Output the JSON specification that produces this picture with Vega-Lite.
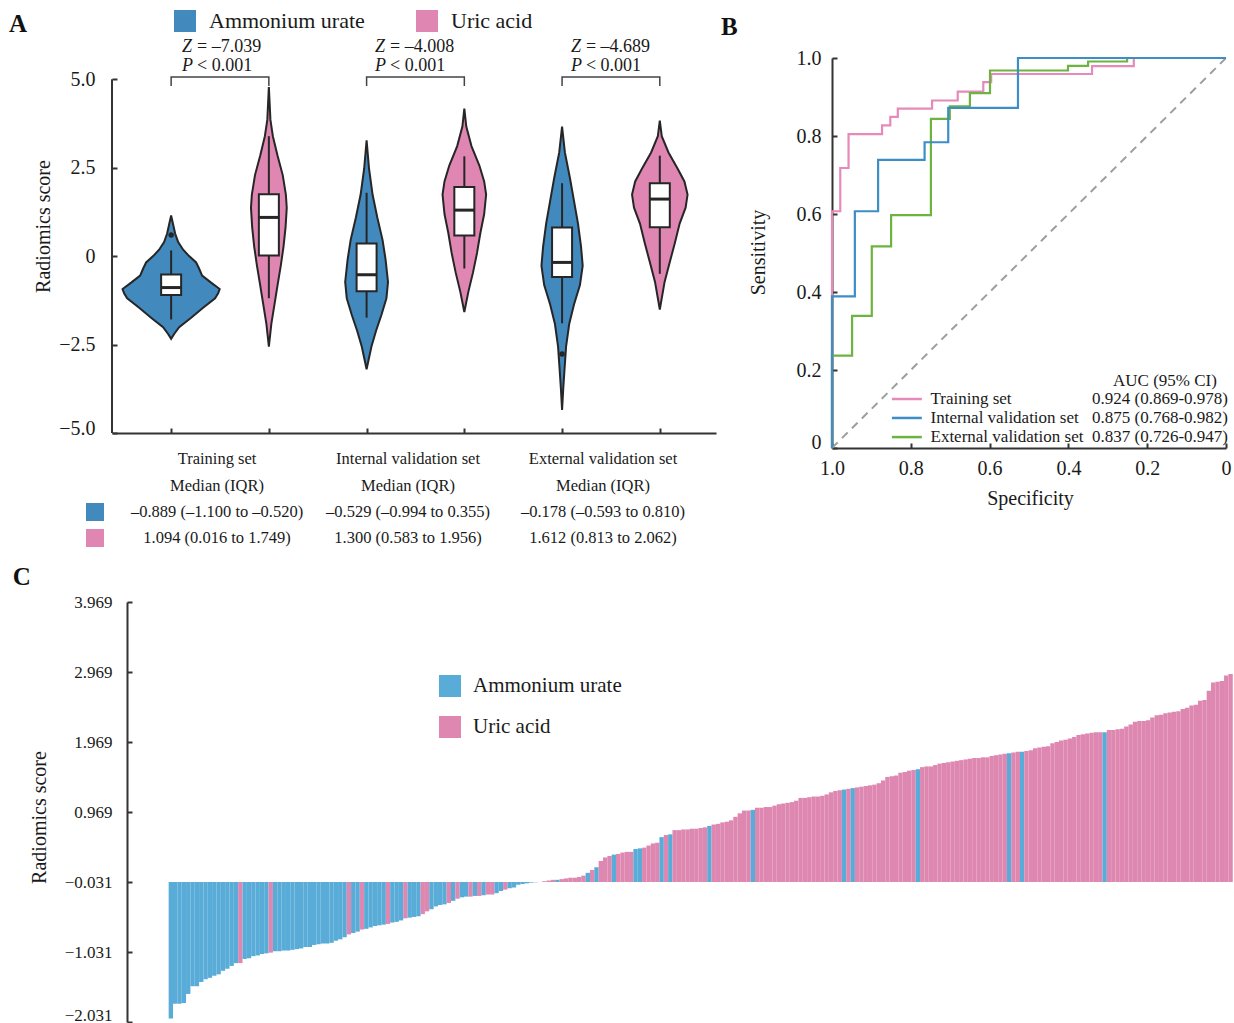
{
"$schema":"https://vega.github.io/schema/vega-lite/v6.json",
"background":"white",
"padding":{"left":8,"top":10,"right":0,"bottom":0},
"config":{
 "view":{"stroke":null},
 "font":"Liberation Serif",
 "axis":{"grid":false,"domainColor":"#333333","domainWidth":2,"tickColor":"#333333","tickWidth":2,"tickSize":-5,"labelColor":"#1a1a1a","labelFont":"Liberation Serif","labelFontSize":20,"titleFont":"Liberation Serif","titleFontSize":20,"titleFontWeight":"normal","titleColor":"#1a1a1a"},
 "legend":{"labelFont":"Liberation Serif","labelColor":"#1a1a1a"},
 "text":{"font":"Liberation Serif","color":"#1a1a1a"}
},
"datasets":{
 "vio":[
  {"g":"Ammonium urate","pos":1,"v":1.15,"d":0},{"g":"Ammonium urate","pos":1,"v":0.9,"d":0.02},{"g":"Ammonium urate","pos":1,"v":0.64,"d":0.041},{"g":"Ammonium urate","pos":1,"v":0.4,"d":0.072},{"g":"Ammonium urate","pos":1,"v":0.18,"d":0.123},{"g":"Ammonium urate","pos":1,"v":0.0,"d":0.184},{"g":"Ammonium urate","pos":1,"v":-0.18,"d":0.256},{"g":"Ammonium urate","pos":1,"v":-0.35,"d":0.286},{"g":"Ammonium urate","pos":1,"v":-0.55,"d":0.317},{"g":"Ammonium urate","pos":1,"v":-0.75,"d":0.409},{"g":"Ammonium urate","pos":1,"v":-0.93,"d":0.497},{"g":"Ammonium urate","pos":1,"v":-1.05,"d":0.481},{"g":"Ammonium urate","pos":1,"v":-1.19,"d":0.45},{"g":"Ammonium urate","pos":1,"v":-1.46,"d":0.327},{"g":"Ammonium urate","pos":1,"v":-1.74,"d":0.205},{"g":"Ammonium urate","pos":1,"v":-2.01,"d":0.082},{"g":"Ammonium urate","pos":1,"v":-2.2,"d":0.031},{"g":"Ammonium urate","pos":1,"v":-2.34,"d":0},
  {"g":"Uric acid","pos":2,"v":4.78,"d":0},{"g":"Uric acid","pos":2,"v":3.85,"d":0.016},{"g":"Uric acid","pos":2,"v":3.39,"d":0.041},{"g":"Uric acid","pos":2,"v":2.84,"d":0.089},{"g":"Uric acid","pos":2,"v":2.29,"d":0.142},{"g":"Uric acid","pos":2,"v":1.74,"d":0.174},{"g":"Uric acid","pos":2,"v":1.37,"d":0.183},{"g":"Uric acid","pos":2,"v":0.82,"d":0.171},{"g":"Uric acid","pos":2,"v":0.27,"d":0.15},{"g":"Uric acid","pos":2,"v":-0.27,"d":0.122},{"g":"Uric acid","pos":2,"v":-0.82,"d":0.089},{"g":"Uric acid","pos":2,"v":-1.37,"d":0.057},{"g":"Uric acid","pos":2,"v":-1.92,"d":0.025},{"g":"Uric acid","pos":2,"v":-2.56,"d":0},
  {"g":"Ammonium urate","pos":3,"v":3.27,"d":0},{"g":"Ammonium urate","pos":3,"v":2.47,"d":0.025},{"g":"Ammonium urate","pos":3,"v":1.74,"d":0.061},{"g":"Ammonium urate","pos":3,"v":1.1,"d":0.109},{"g":"Ammonium urate","pos":3,"v":0.46,"d":0.163},{"g":"Ammonium urate","pos":3,"v":-0.09,"d":0.194},{"g":"Ammonium urate","pos":3,"v":-0.73,"d":0.219},{"g":"Ammonium urate","pos":3,"v":-1.19,"d":0.203},{"g":"Ammonium urate","pos":3,"v":-1.65,"d":0.153},{"g":"Ammonium urate","pos":3,"v":-2.11,"d":0.097},{"g":"Ammonium urate","pos":3,"v":-2.56,"d":0.049},{"g":"Ammonium urate","pos":3,"v":-3.2,"d":0},
  {"g":"Uric acid","pos":4,"v":4.17,"d":0},{"g":"Uric acid","pos":4,"v":3.66,"d":0.02},{"g":"Uric acid","pos":4,"v":3.11,"d":0.073},{"g":"Uric acid","pos":4,"v":2.56,"d":0.154},{"g":"Uric acid","pos":4,"v":2.11,"d":0.203},{"g":"Uric acid","pos":4,"v":1.74,"d":0.223},{"g":"Uric acid","pos":4,"v":1.19,"d":0.203},{"g":"Uric acid","pos":4,"v":0.64,"d":0.163},{"g":"Uric acid","pos":4,"v":0.09,"d":0.13},{"g":"Uric acid","pos":4,"v":-0.46,"d":0.089},{"g":"Uric acid","pos":4,"v":-1.01,"d":0.041},{"g":"Uric acid","pos":4,"v":-1.58,"d":0},
  {"g":"Ammonium urate","pos":5,"v":3.66,"d":0},{"g":"Ammonium urate","pos":5,"v":2.93,"d":0.029},{"g":"Ammonium urate","pos":5,"v":2.2,"d":0.081},{"g":"Ammonium urate","pos":5,"v":1.56,"d":0.122},{"g":"Ammonium urate","pos":5,"v":0.92,"d":0.163},{"g":"Ammonium urate","pos":5,"v":0.27,"d":0.194},{"g":"Ammonium urate","pos":5,"v":-0.27,"d":0.211},{"g":"Ammonium urate","pos":5,"v":-0.82,"d":0.183},{"g":"Ammonium urate","pos":5,"v":-1.37,"d":0.122},{"g":"Ammonium urate","pos":5,"v":-1.92,"d":0.073},{"g":"Ammonium urate","pos":5,"v":-2.56,"d":0.041},{"g":"Ammonium urate","pos":5,"v":-3.2,"d":0.025},{"g":"Ammonium urate","pos":5,"v":-3.75,"d":0.012},{"g":"Ammonium urate","pos":5,"v":-4.35,"d":0},
  {"g":"Uric acid","pos":6,"v":3.83,"d":0},{"g":"Uric acid","pos":6,"v":3.39,"d":0.02},{"g":"Uric acid","pos":6,"v":2.93,"d":0.089},{"g":"Uric acid","pos":6,"v":2.47,"d":0.183},{"g":"Uric acid","pos":6,"v":2.11,"d":0.252},{"g":"Uric acid","pos":6,"v":1.74,"d":0.284},{"g":"Uric acid","pos":6,"v":1.37,"d":0.264},{"g":"Uric acid","pos":6,"v":0.92,"d":0.203},{"g":"Uric acid","pos":6,"v":0.37,"d":0.154},{"g":"Uric acid","pos":6,"v":-0.18,"d":0.101},{"g":"Uric acid","pos":6,"v":-0.73,"d":0.049},{"g":"Uric acid","pos":6,"v":-1.51,"d":0}
 ],
 "box":[
  {"pos":1,"q1":-1.1,"med":-0.889,"q3":-0.52,"lw":-1.79,"uw":0.16},
  {"pos":2,"q1":0.016,"med":1.094,"q3":1.749,"lw":-1.19,"uw":3.39},
  {"pos":3,"q1":-0.994,"med":-0.529,"q3":0.355,"lw":-1.74,"uw":1.79},
  {"pos":4,"q1":0.583,"med":1.3,"q3":1.956,"lw":-0.35,"uw":2.82},
  {"pos":5,"q1":-0.593,"med":-0.178,"q3":0.81,"lw":-1.9,"uw":2.06},
  {"pos":6,"q1":0.813,"med":1.612,"q3":2.062,"lw":-0.5,"uw":2.84}
 ],
 "out":[{"pos":1,"v":0.6},{"pos":5,"v":-2.77}],
 "axisline":[{"a":-5,"b":5}],
 "brk":[
  {"b":1,"k":1,"x":1,"y":4.81},{"b":1,"k":2,"x":1,"y":5.06},{"b":1,"k":3,"x":2,"y":5.06},{"b":1,"k":4,"x":2,"y":4.81},
  {"b":2,"k":1,"x":3,"y":4.81},{"b":2,"k":2,"x":3,"y":5.06},{"b":2,"k":3,"x":4,"y":5.06},{"b":2,"k":4,"x":4,"y":4.81},
  {"b":3,"k":1,"x":5,"y":4.81},{"b":3,"k":2,"x":5,"y":5.06},{"b":3,"k":3,"x":6,"y":5.06},{"b":3,"k":4,"x":6,"y":4.81}
 ],
 "stat":[
  {"x":1.112,"y":5.91,"s":"Z","r":"= –7.039"},{"x":3.086,"y":5.91,"s":"Z","r":"= –4.008"},{"x":5.091,"y":5.91,"s":"Z","r":"= –4.689"},
  {"x":1.112,"y":5.37,"s":"P","r":"< 0.001"},{"x":3.086,"y":5.37,"s":"P","r":"< 0.001"},{"x":5.091,"y":5.37,"s":"P","r":"< 0.001"}
 ],
 "tbl":[
  {"x":1.47,"y":-5.735,"t":"Training set"},{"x":3.424,"y":-5.735,"t":"Internal validation set"},{"x":5.419,"y":-5.735,"t":"External validation set"},
  {"x":1.47,"y":-6.498,"t":"Median (IQR)"},{"x":3.424,"y":-6.498,"t":"Median (IQR)"},{"x":5.419,"y":-6.498,"t":"Median (IQR)"},
  {"x":1.47,"y":-7.233,"t":"–0.889 (–1.100 to –0.520)"},{"x":3.424,"y":-7.233,"t":"–0.529 (–0.994 to 0.355)"},{"x":5.419,"y":-7.233,"t":"–0.178 (–0.593 to 0.810)"},
  {"x":1.47,"y":-7.968,"t":"1.094 (0.016 to 1.749)"},{"x":3.424,"y":-7.968,"t":"1.300 (0.583 to 1.956)"},{"x":5.419,"y":-7.968,"t":"1.612 (0.813 to 2.062)"}
 ],
 "sq":[{"x":0.221,"y":-7.233,"g":"Ammonium urate"},{"x":0.221,"y":-7.968,"g":"Uric acid"}],
 "labA":[{"x":-0.659,"y":6.335,"t":"A"}],
 "labB":[{"x":1.282,"y":1.059,"t":"B"}],
 "labC":[{"x":-35.4,"y":4.212,"t":"C"}],
 "diag":[{"sp":1,"se":0},{"sp":0,"se":1}],
 "roc":[
  {"set":"Training set","k":0,"sp":1,"se":0},{"set":"Training set","k":1,"sp":1,"se":0.607},{"set":"Training set","k":2,"sp":0.979,"se":0.607},{"set":"Training set","k":3,"sp":0.979,"se":0.718},{"set":"Training set","k":4,"sp":0.958,"se":0.718},{"set":"Training set","k":5,"sp":0.958,"se":0.805},{"set":"Training set","k":6,"sp":0.873,"se":0.805},{"set":"Training set","k":7,"sp":0.873,"se":0.827},{"set":"Training set","k":8,"sp":0.852,"se":0.827},{"set":"Training set","k":9,"sp":0.852,"se":0.849},{"set":"Training set","k":10,"sp":0.833,"se":0.849},{"set":"Training set","k":11,"sp":0.833,"se":0.87},{"set":"Training set","k":12,"sp":0.746,"se":0.87},{"set":"Training set","k":13,"sp":0.746,"se":0.891},{"set":"Training set","k":14,"sp":0.681,"se":0.891},{"set":"Training set","k":15,"sp":0.681,"se":0.914},{"set":"Training set","k":16,"sp":0.616,"se":0.914},{"set":"Training set","k":17,"sp":0.616,"se":0.938},{"set":"Training set","k":18,"sp":0.596,"se":0.938},{"set":"Training set","k":19,"sp":0.596,"se":0.959},{"set":"Training set","k":20,"sp":0.34,"se":0.959},{"set":"Training set","k":21,"sp":0.34,"se":0.979},{"set":"Training set","k":22,"sp":0.234,"se":0.979},{"set":"Training set","k":23,"sp":0.234,"se":1},{"set":"Training set","k":24,"sp":0,"se":1},
  {"set":"Internal validation set","k":0,"sp":1,"se":0},{"set":"Internal validation set","k":1,"sp":1,"se":0.389},{"set":"Internal validation set","k":2,"sp":0.942,"se":0.389},{"set":"Internal validation set","k":3,"sp":0.942,"se":0.607},{"set":"Internal validation set","k":4,"sp":0.883,"se":0.607},{"set":"Internal validation set","k":5,"sp":0.883,"se":0.739},{"set":"Internal validation set","k":6,"sp":0.765,"se":0.739},{"set":"Internal validation set","k":7,"sp":0.765,"se":0.784},{"set":"Internal validation set","k":8,"sp":0.705,"se":0.784},{"set":"Internal validation set","k":9,"sp":0.705,"se":0.872},{"set":"Internal validation set","k":10,"sp":0.528,"se":0.872},{"set":"Internal validation set","k":11,"sp":0.528,"se":1},{"set":"Internal validation set","k":12,"sp":0,"se":1},
  {"set":"External validation set","k":0,"sp":1,"se":0},{"set":"External validation set","k":1,"sp":1,"se":0.237},{"set":"External validation set","k":2,"sp":0.949,"se":0.237},{"set":"External validation set","k":3,"sp":0.949,"se":0.339},{"set":"External validation set","k":4,"sp":0.899,"se":0.339},{"set":"External validation set","k":5,"sp":0.899,"se":0.517},{"set":"External validation set","k":6,"sp":0.85,"se":0.517},{"set":"External validation set","k":7,"sp":0.85,"se":0.597},{"set":"External validation set","k":8,"sp":0.749,"se":0.597},{"set":"External validation set","k":9,"sp":0.749,"se":0.844},{"set":"External validation set","k":10,"sp":0.701,"se":0.844},{"set":"External validation set","k":11,"sp":0.701,"se":0.876},{"set":"External validation set","k":12,"sp":0.65,"se":0.876},{"set":"External validation set","k":13,"sp":0.65,"se":0.91},{"set":"External validation set","k":14,"sp":0.599,"se":0.91},{"set":"External validation set","k":15,"sp":0.599,"se":0.968},{"set":"External validation set","k":16,"sp":0.401,"se":0.968},{"set":"External validation set","k":17,"sp":0.401,"se":0.98},{"set":"External validation set","k":18,"sp":0.35,"se":0.98},{"set":"External validation set","k":19,"sp":0.35,"se":0.991},{"set":"External validation set","k":20,"sp":0.251,"se":0.991},{"set":"External validation set","k":21,"sp":0.251,"se":1},{"set":"External validation set","k":22,"sp":0,"se":1}
 ],
 "rocleg":[
  {"set":"Training set","x1":0.848,"x2":0.772,"y":0.1256},
  {"set":"Internal validation set","x1":0.848,"x2":0.772,"y":0.077},
  {"set":"External validation set","x1":0.848,"x2":0.772,"y":0.028}
 ],
 "rocname":[
  {"x":0.75,"y":0.1256,"t":"Training set"},{"x":0.75,"y":0.077,"t":"Internal validation set"},{"x":0.75,"y":0.028,"t":"External validation set"}
 ],
 "rocauc":[
  {"x":-0.005,"y":0.1256,"t":"0.924 (0.869-0.978)"},{"x":-0.005,"y":0.077,"t":"0.875 (0.768-0.982)"},{"x":-0.005,"y":0.028,"t":"0.837 (0.726-0.947)"}
 ],
 "rochead":[{"x":0.155,"y":0.172,"t":"AUC (95% CI)"}],
 "bars":[
  {"r":1,"v":-1.98,"t":"Ammonium urate"},{"r":2,"v":-1.77,"t":"Ammonium urate"},{"r":3,"v":-1.77,"t":"Ammonium urate"},{"r":4,"v":-1.76,"t":"Ammonium urate"},{"r":5,"v":-1.63,"t":"Ammonium urate"},{"r":6,"v":-1.52,"t":"Ammonium urate"},{"r":7,"v":-1.52,"t":"Ammonium urate"},{"r":8,"v":-1.46,"t":"Ammonium urate"},{"r":9,"v":-1.42,"t":"Ammonium urate"},{"r":10,"v":-1.4,"t":"Ammonium urate"},
  {"r":11,"v":-1.37,"t":"Ammonium urate"},{"r":12,"v":-1.35,"t":"Ammonium urate"},{"r":13,"v":-1.3,"t":"Ammonium urate"},{"r":14,"v":-1.27,"t":"Ammonium urate"},{"r":15,"v":-1.23,"t":"Ammonium urate"},{"r":16,"v":-1.19,"t":"Ammonium urate"},{"r":17,"v":-1.19,"t":"Uric acid"},{"r":18,"v":-1.13,"t":"Ammonium urate"},{"r":19,"v":-1.12,"t":"Ammonium urate"},{"r":20,"v":-1.09,"t":"Ammonium urate"},
  {"r":21,"v":-1.08,"t":"Ammonium urate"},{"r":22,"v":-1.06,"t":"Ammonium urate"},{"r":23,"v":-1.05,"t":"Ammonium urate"},{"r":24,"v":-1.04,"t":"Uric acid"},{"r":25,"v":-1.02,"t":"Ammonium urate"},{"r":26,"v":-1.02,"t":"Ammonium urate"},{"r":27,"v":-1.01,"t":"Ammonium urate"},{"r":28,"v":-1.01,"t":"Ammonium urate"},{"r":29,"v":-1.0,"t":"Ammonium urate"},{"r":30,"v":-0.99,"t":"Ammonium urate"},
  {"r":31,"v":-0.98,"t":"Ammonium urate"},{"r":32,"v":-0.96,"t":"Ammonium urate"},{"r":33,"v":-0.96,"t":"Ammonium urate"},{"r":34,"v":-0.93,"t":"Ammonium urate"},{"r":35,"v":-0.92,"t":"Ammonium urate"},{"r":36,"v":-0.91,"t":"Ammonium urate"},{"r":37,"v":-0.91,"t":"Ammonium urate"},{"r":38,"v":-0.9,"t":"Ammonium urate"},{"r":39,"v":-0.87,"t":"Ammonium urate"},{"r":40,"v":-0.85,"t":"Ammonium urate"},
  {"r":41,"v":-0.82,"t":"Ammonium urate"},{"r":42,"v":-0.78,"t":"Uric acid"},{"r":43,"v":-0.76,"t":"Ammonium urate"},{"r":44,"v":-0.74,"t":"Ammonium urate"},{"r":45,"v":-0.71,"t":"Uric acid"},{"r":46,"v":-0.7,"t":"Ammonium urate"},{"r":47,"v":-0.68,"t":"Ammonium urate"},{"r":48,"v":-0.66,"t":"Ammonium urate"},{"r":49,"v":-0.65,"t":"Ammonium urate"},{"r":50,"v":-0.64,"t":"Ammonium urate"},
  {"r":51,"v":-0.63,"t":"Uric acid"},{"r":52,"v":-0.61,"t":"Ammonium urate"},{"r":53,"v":-0.6,"t":"Ammonium urate"},{"r":54,"v":-0.58,"t":"Ammonium urate"},{"r":55,"v":-0.55,"t":"Uric acid"},{"r":56,"v":-0.54,"t":"Ammonium urate"},{"r":57,"v":-0.53,"t":"Ammonium urate"},{"r":58,"v":-0.52,"t":"Ammonium urate"},{"r":59,"v":-0.49,"t":"Uric acid"},{"r":60,"v":-0.45,"t":"Uric acid"},
  {"r":61,"v":-0.42,"t":"Ammonium urate"},{"r":62,"v":-0.38,"t":"Ammonium urate"},{"r":63,"v":-0.36,"t":"Ammonium urate"},{"r":64,"v":-0.35,"t":"Ammonium urate"},{"r":65,"v":-0.33,"t":"Uric acid"},{"r":66,"v":-0.3,"t":"Ammonium urate"},{"r":67,"v":-0.27,"t":"Uric acid"},{"r":68,"v":-0.25,"t":"Ammonium urate"},{"r":69,"v":-0.24,"t":"Ammonium urate"},{"r":70,"v":-0.24,"t":"Uric acid"},
  {"r":71,"v":-0.23,"t":"Ammonium urate"},{"r":72,"v":-0.23,"t":"Uric acid"},{"r":73,"v":-0.22,"t":"Ammonium urate"},{"r":74,"v":-0.21,"t":"Uric acid"},{"r":75,"v":-0.21,"t":"Uric acid"},{"r":76,"v":-0.19,"t":"Ammonium urate"},{"r":77,"v":-0.16,"t":"Ammonium urate"},{"r":78,"v":-0.14,"t":"Uric acid"},{"r":79,"v":-0.12,"t":"Ammonium urate"},{"r":80,"v":-0.11,"t":"Ammonium urate"},
  {"r":81,"v":-0.07,"t":"Ammonium urate"},{"r":82,"v":-0.06,"t":"Ammonium urate"},{"r":83,"v":-0.05,"t":"Ammonium urate"},{"r":84,"v":-0.04,"t":"Ammonium urate"},{"r":85,"v":-0.035,"t":"Ammonium urate"},{"r":86,"v":-0.03,"t":"Ammonium urate"},{"r":87,"v":-0.02,"t":"Uric acid"},{"r":88,"v":-0.01,"t":"Uric acid"},{"r":89,"v":0.0,"t":"Uric acid"},{"r":90,"v":0.0,"t":"Ammonium urate"},
  {"r":91,"v":0.01,"t":"Uric acid"},{"r":92,"v":0.02,"t":"Uric acid"},{"r":93,"v":0.03,"t":"Uric acid"},{"r":94,"v":0.03,"t":"Uric acid"},{"r":95,"v":0.04,"t":"Uric acid"},{"r":96,"v":0.06,"t":"Uric acid"},{"r":97,"v":0.1,"t":"Ammonium urate"},{"r":98,"v":0.14,"t":"Uric acid"},{"r":99,"v":0.18,"t":"Ammonium urate"},{"r":100,"v":0.27,"t":"Uric acid"},
  {"r":101,"v":0.32,"t":"Uric acid"},{"r":102,"v":0.34,"t":"Uric acid"},{"r":103,"v":0.36,"t":"Ammonium urate"},{"r":104,"v":0.37,"t":"Uric acid"},{"r":105,"v":0.39,"t":"Uric acid"},{"r":106,"v":0.4,"t":"Uric acid"},{"r":107,"v":0.4,"t":"Uric acid"},{"r":108,"v":0.44,"t":"Ammonium urate"},{"r":109,"v":0.45,"t":"Ammonium urate"},{"r":110,"v":0.46,"t":"Uric acid"},
  {"r":111,"v":0.49,"t":"Uric acid"},{"r":112,"v":0.52,"t":"Uric acid"},{"r":113,"v":0.53,"t":"Uric acid"},{"r":114,"v":0.61,"t":"Ammonium urate"},{"r":115,"v":0.64,"t":"Uric acid"},{"r":116,"v":0.65,"t":"Ammonium urate"},{"r":117,"v":0.71,"t":"Uric acid"},{"r":118,"v":0.71,"t":"Uric acid"},{"r":119,"v":0.72,"t":"Uric acid"},{"r":120,"v":0.72,"t":"Uric acid"},
  {"r":121,"v":0.73,"t":"Uric acid"},{"r":122,"v":0.73,"t":"Uric acid"},{"r":123,"v":0.74,"t":"Uric acid"},{"r":124,"v":0.75,"t":"Uric acid"},{"r":125,"v":0.77,"t":"Ammonium urate"},{"r":126,"v":0.79,"t":"Uric acid"},{"r":127,"v":0.8,"t":"Uric acid"},{"r":128,"v":0.82,"t":"Uric acid"},{"r":129,"v":0.83,"t":"Uric acid"},{"r":130,"v":0.85,"t":"Uric acid"},
  {"r":131,"v":0.9,"t":"Uric acid"},{"r":132,"v":0.95,"t":"Uric acid"},{"r":133,"v":0.99,"t":"Uric acid"},{"r":134,"v":0.99,"t":"Uric acid"},{"r":135,"v":1.0,"t":"Ammonium urate"},{"r":136,"v":1.03,"t":"Uric acid"},{"r":137,"v":1.03,"t":"Uric acid"},{"r":138,"v":1.04,"t":"Uric acid"},{"r":139,"v":1.04,"t":"Uric acid"},{"r":140,"v":1.06,"t":"Uric acid"},
  {"r":141,"v":1.08,"t":"Uric acid"},{"r":142,"v":1.09,"t":"Uric acid"},{"r":143,"v":1.1,"t":"Uric acid"},{"r":144,"v":1.11,"t":"Uric acid"},{"r":145,"v":1.13,"t":"Uric acid"},{"r":146,"v":1.17,"t":"Uric acid"},{"r":147,"v":1.17,"t":"Uric acid"},{"r":148,"v":1.18,"t":"Uric acid"},{"r":149,"v":1.19,"t":"Uric acid"},{"r":150,"v":1.19,"t":"Uric acid"},
  {"r":151,"v":1.2,"t":"Uric acid"},{"r":152,"v":1.22,"t":"Uric acid"},{"r":153,"v":1.25,"t":"Uric acid"},{"r":154,"v":1.27,"t":"Uric acid"},{"r":155,"v":1.28,"t":"Uric acid"},{"r":156,"v":1.29,"t":"Ammonium urate"},{"r":157,"v":1.3,"t":"Uric acid"},{"r":158,"v":1.31,"t":"Ammonium urate"},{"r":159,"v":1.32,"t":"Uric acid"},{"r":160,"v":1.33,"t":"Uric acid"},
  {"r":161,"v":1.34,"t":"Uric acid"},{"r":162,"v":1.35,"t":"Uric acid"},{"r":163,"v":1.36,"t":"Uric acid"},{"r":164,"v":1.38,"t":"Uric acid"},{"r":165,"v":1.42,"t":"Uric acid"},{"r":166,"v":1.47,"t":"Uric acid"},{"r":167,"v":1.48,"t":"Uric acid"},{"r":168,"v":1.49,"t":"Uric acid"},{"r":169,"v":1.53,"t":"Uric acid"},{"r":170,"v":1.54,"t":"Uric acid"},
  {"r":171,"v":1.56,"t":"Uric acid"},{"r":172,"v":1.57,"t":"Uric acid"},{"r":173,"v":1.58,"t":"Ammonium urate"},{"r":174,"v":1.61,"t":"Uric acid"},{"r":175,"v":1.62,"t":"Uric acid"},{"r":176,"v":1.62,"t":"Uric acid"},{"r":177,"v":1.64,"t":"Uric acid"},{"r":178,"v":1.66,"t":"Uric acid"},{"r":179,"v":1.67,"t":"Uric acid"},{"r":180,"v":1.68,"t":"Uric acid"},
  {"r":181,"v":1.69,"t":"Uric acid"},{"r":182,"v":1.7,"t":"Uric acid"},{"r":183,"v":1.71,"t":"Uric acid"},{"r":184,"v":1.72,"t":"Uric acid"},{"r":185,"v":1.73,"t":"Uric acid"},{"r":186,"v":1.74,"t":"Uric acid"},{"r":187,"v":1.74,"t":"Uric acid"},{"r":188,"v":1.75,"t":"Uric acid"},{"r":189,"v":1.75,"t":"Uric acid"},{"r":190,"v":1.77,"t":"Uric acid"},
  {"r":191,"v":1.78,"t":"Uric acid"},{"r":192,"v":1.79,"t":"Uric acid"},{"r":193,"v":1.8,"t":"Uric acid"},{"r":194,"v":1.81,"t":"Ammonium urate"},{"r":195,"v":1.82,"t":"Uric acid"},{"r":196,"v":1.83,"t":"Uric acid"},{"r":197,"v":1.83,"t":"Ammonium urate"},{"r":198,"v":1.84,"t":"Uric acid"},{"r":199,"v":1.85,"t":"Uric acid"},{"r":200,"v":1.88,"t":"Uric acid"},
  {"r":201,"v":1.89,"t":"Uric acid"},{"r":202,"v":1.9,"t":"Uric acid"},{"r":203,"v":1.91,"t":"Uric acid"},{"r":204,"v":1.95,"t":"Uric acid"},{"r":205,"v":1.97,"t":"Uric acid"},{"r":206,"v":1.99,"t":"Uric acid"},{"r":207,"v":2.0,"t":"Uric acid"},{"r":208,"v":2.02,"t":"Uric acid"},{"r":209,"v":2.04,"t":"Uric acid"},{"r":210,"v":2.07,"t":"Uric acid"},
  {"r":211,"v":2.08,"t":"Uric acid"},{"r":212,"v":2.09,"t":"Uric acid"},{"r":213,"v":2.1,"t":"Uric acid"},{"r":214,"v":2.11,"t":"Uric acid"},{"r":215,"v":2.11,"t":"Uric acid"},{"r":216,"v":2.11,"t":"Ammonium urate"},{"r":217,"v":2.14,"t":"Uric acid"},{"r":218,"v":2.14,"t":"Uric acid"},{"r":219,"v":2.15,"t":"Uric acid"},{"r":220,"v":2.16,"t":"Uric acid"},
  {"r":221,"v":2.19,"t":"Uric acid"},{"r":222,"v":2.22,"t":"Uric acid"},{"r":223,"v":2.26,"t":"Uric acid"},{"r":224,"v":2.27,"t":"Uric acid"},{"r":225,"v":2.27,"t":"Uric acid"},{"r":226,"v":2.28,"t":"Uric acid"},{"r":227,"v":2.32,"t":"Uric acid"},{"r":228,"v":2.35,"t":"Uric acid"},{"r":229,"v":2.36,"t":"Uric acid"},{"r":230,"v":2.38,"t":"Uric acid"},
  {"r":231,"v":2.39,"t":"Uric acid"},{"r":232,"v":2.4,"t":"Uric acid"},{"r":233,"v":2.41,"t":"Uric acid"},{"r":234,"v":2.44,"t":"Uric acid"},{"r":235,"v":2.46,"t":"Uric acid"},{"r":236,"v":2.49,"t":"Uric acid"},{"r":237,"v":2.5,"t":"Uric acid"},{"r":238,"v":2.56,"t":"Uric acid"},{"r":239,"v":2.57,"t":"Uric acid"},{"r":240,"v":2.7,"t":"Uric acid"},
  {"r":241,"v":2.82,"t":"Uric acid"},{"r":242,"v":2.83,"t":"Uric acid"},{"r":243,"v":2.84,"t":"Uric acid"},{"r":244,"v":2.92,"t":"Uric acid"},{"r":245,"v":2.94,"t":"Uric acid"}
 ]
},
"concat":[
 {
  "width":604,"height":375,
  "layer":[
   {
    "data":{"name":"vio"},
    "transform":[{"calculate":"datum.pos - datum.d","as":"lo"},{"calculate":"datum.pos + datum.d","as":"hi"}],
    "mark":{"type":"area","orient":"horizontal","stroke":"#262626","strokeWidth":2,"opacity":1,"fillOpacity":1},
    "encoding":{
     "y":{"field":"v","type":"quantitative","scale":{"domain":[-5,5.6],"nice":false,"zero":false,"padding":0},
          "axis":{"values":[-5,-2.5,0,2.5,5],"domain":false,"labelExpr":"datum.value == 0 ? '0' : format(datum.value, '.1f')","labelPadding":22,"title":"Radiomics score","titleX":-59,"titleY":168,"labelOffset":{"condition":{"test":"datum.value < -4","value":-5},"value":0}}},
     "x":{"field":"lo","type":"quantitative","stack":null,"scale":{"domain":[0.395,6.575],"nice":false,"zero":false,"padding":0},"axis":{"values":[1,2,3,4,5,6],"labels":false,"title":null}},
     "x2":{"field":"hi"},
     "color":{"field":"g","type":"nominal","scale":{"domain":["Ammonium urate","Uric acid"],"range":["#4289bd","#df87b2"]},
              "legend":{"orient":"none","legendX":62,"legendY":-48,"direction":"horizontal","title":null,"symbolType":"square","symbolSize":484,"symbolStrokeWidth":0,"symbolOpacity":1,"labelFontSize":22,"labelOffset":13,"columnPadding":51,"labelLimit":300,"padding":0}},
     "detail":{"field":"pos"}
    }
   },
   {
    "data":{"name":"axisline"},
    "mark":{"type":"rule","color":"#333333","strokeWidth":2},
    "encoding":{"x":{"datum":0.395,"type":"quantitative"},"y":{"field":"a","type":"quantitative"},"y2":{"field":"b"}}
   },
   {
    "data":{"name":"box"},
    "mark":{"type":"rule","color":"#262626","strokeWidth":2},
    "encoding":{"x":{"field":"pos","type":"quantitative"},"y":{"field":"lw","type":"quantitative"},"y2":{"field":"uw"}}
   },
   {
    "data":{"name":"box"},
    "mark":{"type":"bar","orient":"vertical","width":20,"fill":"white","stroke":"#262626","strokeWidth":2},
    "encoding":{"x":{"field":"pos","type":"quantitative"},"y":{"field":"q1","type":"quantitative"},"y2":{"field":"q3"}}
   },
   {
    "data":{"name":"box"},
    "mark":{"type":"tick","orient":"horizontal","size":20,"thickness":3,"color":"#262626","opacity":1},
    "encoding":{"x":{"field":"pos","type":"quantitative"},"y":{"field":"med","type":"quantitative"}}
   },
   {
    "data":{"name":"out"},
    "mark":{"type":"point","filled":true,"size":30,"color":"#262626","opacity":1},
    "encoding":{"x":{"field":"pos","type":"quantitative"},"y":{"field":"v","type":"quantitative"}}
   },
   {
    "data":{"name":"brk"},
    "mark":{"type":"line","color":"#444444","strokeWidth":1.5},
    "encoding":{"x":{"field":"x","type":"quantitative"},"y":{"field":"y","type":"quantitative"},"detail":{"field":"b"},"order":{"field":"k","type":"quantitative"}}
   },
   {
    "data":{"name":"stat"},
    "mark":{"type":"text","align":"left","baseline":"middle","fontSize":18,"fontStyle":"italic"},
    "encoding":{"x":{"field":"x","type":"quantitative"},"y":{"field":"y","type":"quantitative"},"text":{"field":"s"}}
   },
   {
    "data":{"name":"stat"},
    "mark":{"type":"text","align":"left","baseline":"middle","fontSize":18,"dx":15},
    "encoding":{"x":{"field":"x","type":"quantitative"},"y":{"field":"y","type":"quantitative"},"text":{"field":"r"}}
   },
   {
    "data":{"name":"tbl"},
    "mark":{"type":"text","align":"center","baseline":"middle","fontSize":16.5},
    "encoding":{"x":{"field":"x","type":"quantitative"},"y":{"field":"y","type":"quantitative"},"text":{"field":"t"}}
   },
   {
    "data":{"name":"sq"},
    "mark":{"type":"point","shape":"square","filled":true,"size":324,"opacity":1},
    "encoding":{"x":{"field":"x","type":"quantitative"},"y":{"field":"y","type":"quantitative"},"color":{"field":"g","type":"nominal"}}
   },
   {
    "data":{"name":"labA"},
    "mark":{"type":"text","align":"left","baseline":"alphabetic","fontSize":25,"fontWeight":"bold","color":"#111111"},
    "encoding":{"x":{"field":"x","type":"quantitative"},"y":{"field":"y","type":"quantitative"},"text":{"field":"t"}}
   }
  ]
 },
 {
  "width":394,"height":390,
  "layer":[
   {
    "data":{"name":"diag"},
    "mark":{"type":"line","color":"#9e9e9e","strokeWidth":2,"strokeDash":[8,6]},
    "encoding":{
     "x":{"field":"sp","type":"quantitative","scale":{"domain":[0,1],"reverse":true,"nice":false,"zero":false,"padding":0},
          "axis":{"values":[0,0.2,0.4,0.6,0.8,1],"labelExpr":"datum.value == 0 ? '0' : format(datum.value, '.1f')","labelFlush":false,"labelPadding":15,"title":"Specificity","titleX":198,"titleY":40,"titleBaseline":"top"}},
     "y":{"field":"se","type":"quantitative","scale":{"domain":[0,1],"nice":false,"zero":false,"padding":0},
          "axis":{"values":[0,0.2,0.4,0.6,0.8,1],"labelExpr":"datum.value == 0 ? '0' : format(datum.value, '.1f')","labelPadding":16,"title":"Sensitivity","titleX":-64,"titleY":194,"labelOffset":{"condition":{"test":"datum.value == 0","value":-6},"value":0}}}
    }
   },
   {
    "data":{"name":"roc"},
    "transform":[{"filter":"datum.set == 'Training set'"}],
    "mark":{"type":"line","strokeWidth":2.2},
    "encoding":{"x":{"field":"sp","type":"quantitative"},"y":{"field":"se","type":"quantitative"},"order":{"field":"k","type":"quantitative"},
      "color":{"field":"set","type":"nominal","scale":{"domain":["Training set","Internal validation set","External validation set"],"range":["#e68ab9","#3d8dc6","#6cb43f"]},"legend":null}}
   },
   {
    "data":{"name":"roc"},
    "transform":[{"filter":"datum.set == 'External validation set'"}],
    "mark":{"type":"line","strokeWidth":2.2},
    "encoding":{"x":{"field":"sp","type":"quantitative"},"y":{"field":"se","type":"quantitative"},"order":{"field":"k","type":"quantitative"},"color":{"field":"set","type":"nominal","legend":null}}
   },
   {
    "data":{"name":"roc"},
    "transform":[{"filter":"datum.set == 'Internal validation set'"}],
    "mark":{"type":"line","strokeWidth":2.2},
    "encoding":{"x":{"field":"sp","type":"quantitative"},"y":{"field":"se","type":"quantitative"},"order":{"field":"k","type":"quantitative"},"color":{"field":"set","type":"nominal","legend":null}}
   },
   {
    "data":{"name":"rocleg"},
    "mark":{"type":"rule","strokeWidth":2.5},
    "encoding":{"x":{"field":"x1","type":"quantitative"},"x2":{"field":"x2"},"y":{"field":"y","type":"quantitative"},"color":{"field":"set","type":"nominal","legend":null}}
   },
   {
    "data":{"name":"rocname"},
    "mark":{"type":"text","align":"left","baseline":"middle","fontSize":17},
    "encoding":{"x":{"field":"x","type":"quantitative"},"y":{"field":"y","type":"quantitative"},"text":{"field":"t"}}
   },
   {
    "data":{"name":"rocauc"},
    "mark":{"type":"text","align":"right","baseline":"middle","fontSize":17},
    "encoding":{"x":{"field":"x","type":"quantitative"},"y":{"field":"y","type":"quantitative"},"text":{"field":"t"}}
   },
   {
    "data":{"name":"rochead"},
    "mark":{"type":"text","align":"center","baseline":"middle","fontSize":17},
    "encoding":{"x":{"field":"x","type":"quantitative"},"y":{"field":"y","type":"quantitative"},"text":{"field":"t"}}
   },
   {
    "data":{"name":"labB"},
    "mark":{"type":"text","align":"left","baseline":"alphabetic","fontSize":25,"fontWeight":"bold","color":"#111111"},
    "encoding":{"x":{"field":"x","type":"quantitative"},"y":{"field":"y","type":"quantitative"},"text":{"field":"t"}}
   }
  ]
 },
 {
  "width":604,"height":420,
  "layer":[
   {
    "data":{"name":"bars"},
    "mark":{"type":"bar","width":4.36},
    "encoding":{
     "x":{"field":"r","type":"quantitative","scale":{"domain":[-12.55,126.52],"nice":false,"zero":false,"padding":0},"axis":null},
     "y":{"field":"v","type":"quantitative","scale":{"domain":[-2.031,3.969],"nice":false,"zero":false,"padding":0},
          "axis":{"values":[-2.031,-1.031,-0.031,0.969,1.969,2.969,3.969],"format":".3f","offset":-15,"labelFontSize":17,"labelPadding":20,"title":"Radiomics score","titleX":-78,"titleY":215,"labelOffset":{"condition":{"test":"datum.value < -2","value":-7},"value":0}}},
     "y2":{"datum":-0.031},
     "color":{"field":"t","type":"nominal","scale":{"domain":["Ammonium urate","Uric acid"],"range":["#58acd7","#de87b0"]},
              "legend":{"orient":"none","legendX":327,"legendY":73,"direction":"vertical","title":null,"symbolType":"square","symbolSize":484,"symbolStrokeWidth":0,"symbolOpacity":1,"labelFontSize":21,"labelOffset":12,"rowPadding":19,"labelLimit":300,"padding":0}}
    }
   },
   {
    "data":{"name":"labC"},
    "mark":{"type":"text","align":"left","baseline":"alphabetic","fontSize":25,"fontWeight":"bold","color":"#111111"},
    "encoding":{"x":{"field":"x","type":"quantitative"},"y":{"field":"y","type":"quantitative"},"text":{"field":"t"}}
   }
  ]
 }
],
"columns":2,
"align":"each",
"bounds":"flush",
"spacing":{"column":116,"row":154},
"resolve":{"scale":{"color":"independent"},"legend":{"color":"independent"}}
}
